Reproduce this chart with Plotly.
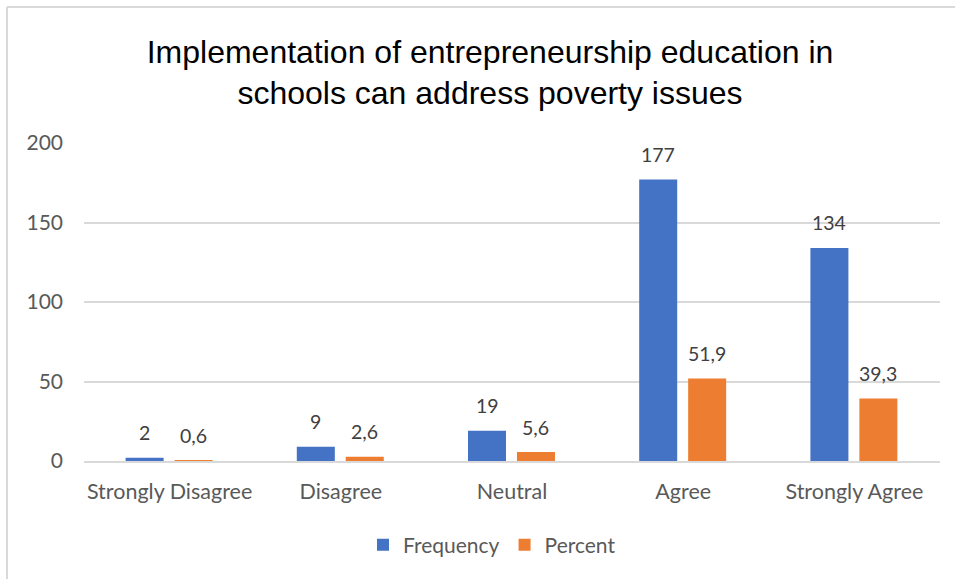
import plotly.graph_objects as go

# Survey responses
categories = ["Strongly Disagree", "Disagree", "Neutral", "Agree", "Strongly Agree"]
frequency = [2, 9, 19, 177, 134]
percent = [0.6, 2.6, 5.6, 51.9, 39.3]
y_ticks = [0, 50, 100, 150, 200]

BLUE = "#4472C4"
ORANGE = "#ED7D31"
GRID = "#D9D9D9"
TICK_COLOR = "#595959"
LABEL_COLOR = "#404040"
FONT = "Lato"

BAR_W = 0.222
OFFSETS = {"Frequency": -0.257, "Percent": 0.029}

fig = go.Figure()
for name, vals, color in [("Frequency", frequency, BLUE), ("Percent", percent, ORANGE)]:
    fig.add_trace(go.Bar(
        x=categories, y=vals, name=name,
        marker=dict(color=color, line=dict(width=0)),
        width=BAR_W, offset=OFFSETS[name],
    ))

# Value labels above each bar (decimal comma)
annotations = []
for name, vals, fmt in [("Frequency", frequency, "{:d}"), ("Percent", percent, "{:.1f}")]:
    for i, v in enumerate(vals):
        annotations.append(dict(
            x=i + OFFSETS[name] + BAR_W / 2, y=v, xref="x", yref="y",
            text=fmt.format(v).replace(".", ","), showarrow=False,
            yanchor="middle", yshift=25,
            font=dict(family=FONT, size=19.5, color=LABEL_COLOR),
        ))

# Light chart frame along top and left edges
L, R, T, B = 84, 15, 143, 118
W, H = 955, 579
pw, ph = W - L - R, H - T - B
def px_x(px):
    return (px - L) / pw
def px_y(py):
    return (H - B - py) / ph

shapes = [
    dict(type="line", xref="paper", yref="paper",
         x0=px_x(7), x1=px_x(W + 2), y0=px_y(7), y1=px_y(7),
         line=dict(color=GRID, width=2)),
    dict(type="line", xref="paper", yref="paper",
         x0=px_x(7), x1=px_x(7), y0=px_y(7), y1=px_y(H + 2),
         line=dict(color=GRID, width=2)),
]

fig.update_layout(
    width=W, height=H,
    margin=dict(l=L, r=R, t=T, b=B, pad=0),
    paper_bgcolor="white", plot_bgcolor="white",
    separators=",.",
    barmode="overlay",
    title=dict(
        text="Implementation of entrepreneurship education in<br>schools can address poverty issues",
        x=490 / W, xref="container", xanchor="center",
        y=1 - 62.5 / H, yref="container", yanchor="middle",
        font=dict(family="Liberation Sans, Arial", size=32, color="#000000"),
    ),
    xaxis=dict(
        type="category", categoryorder="array", categoryarray=categories,
        range=[-0.5, len(categories) - 0.5],
        showgrid=False, zeroline=False,
        showline=True, linecolor=GRID, linewidth=2,
        ticks="", ticklabelstandoff=10,
        tickfont=dict(family=FONT, size=21.5, color=TICK_COLOR),
    ),
    yaxis=dict(
        range=[0, 200], tickvals=y_ticks,
        showgrid=True, gridcolor=GRID, gridwidth=2,
        zeroline=False, showline=False,
        ticks="", ticklabelstandoff=20,
        tickfont=dict(family=FONT, size=21, color=TICK_COLOR),
    ),
    legend=dict(
        orientation="h", x=px_x(492), xanchor="center",
        y=px_y(545), yanchor="middle",
        font=dict(family=FONT, size=21, color=TICK_COLOR),
        itemwidth=30, traceorder="normal",
    ),
    annotations=annotations,
    shapes=shapes,
)

fig.write_html("out.html")
